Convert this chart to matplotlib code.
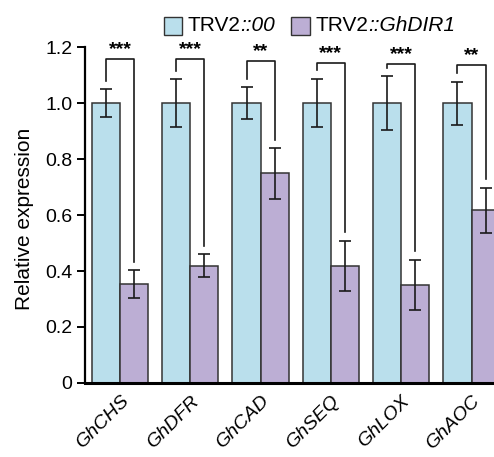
import numpy as np
import matplotlib.pyplot as plt
import matplotlib.transforms as mtransforms
from matplotlib.offsetbox import TextArea, DrawingArea, HPacker, AnchoredOffsetbox
from matplotlib.patches import Rectangle

plt.rcParams['font.family'] = ['Liberation Sans', 'DejaVu Sans']

# data
genes = ["GhCHS", "GhDFR", "GhCAD", "GhSEQ", "GhLOX", "GhAOC"]
ctrl = [1.0, 1.0, 1.0, 1.0, 1.0, 1.0]
ctrl_err = [0.05, 0.086, 0.056, 0.087, 0.097, 0.077]
vigs = [0.353, 0.419, 0.749, 0.419, 0.351, 0.617]
vigs_err = [0.05, 0.04, 0.09, 0.089, 0.09, 0.08]
stars = ["***", "***", "**", "***", "***", "**"]
bracket_y = [1.158, 1.156, 1.151, 1.144, 1.139, 1.135]

blue = "#badfec"
purple = "#bcaed4"
edge = "#333333"

fig = plt.figure(figsize=(4.94, 4.57), dpi=100)
ax = fig.add_axes([0.172, 0.162, 0.828, 0.735])

x = np.arange(len(genes))
w = 0.4
ekw = dict(elinewidth=1.2, capthick=1.2, ecolor="#1a1a1a")
ax.bar(x - w / 2, ctrl, w, yerr=ctrl_err, capsize=4, color=blue,
       edgecolor=edge, linewidth=1.1, error_kw=ekw)
ax.bar(x + w / 2, vigs, w, yerr=vigs_err, capsize=4, color=purple,
       edgecolor=edge, linewidth=1.1, error_kw=ekw)

# significance brackets
for i in range(len(genes)):
    x0, x1 = x[i] - w / 2, x[i] + w / 2
    top = bracket_y[i]
    y0 = ctrl[i] + ctrl_err[i] + 0.03
    y1 = vigs[i] + vigs_err[i] + 0.03
    ax.plot([x0, x0, x1, x1], [y0, top, top, y1], color="#1a1a1a", lw=1.2, clip_on=False)
    ax.text(x[i], top + 0.004, stars[i], ha="center", va="bottom",
            fontsize=14, fontweight="bold")

ax.set_xlim(-0.498, 5.32)
ax.set_ylim(0, 1.2)
ax.set_yticks([0, 0.2, 0.4, 0.6, 0.8, 1.0, 1.2])
ax.set_yticklabels(["0", "0.2", "0.4", "0.6", "0.8", "1.0", "1.2"])
ax.set_xticks(x)
ax.set_xticklabels(genes, rotation=45, ha="right", rotation_mode="anchor",
                   fontstyle="italic")
shift = mtransforms.ScaledTranslation(-9 / 100, -5 / 100, fig.dpi_scale_trans)
for lab in ax.get_xticklabels():
    lab.set_transform(lab.get_transform() + shift)
ax.tick_params(axis="y", direction="out", length=6, width=1.4, labelsize=14, pad=3)
ax.tick_params(axis="x", length=0, labelsize=14, pad=7)
ax.set_ylabel("Relative expression", fontsize=15)
ax.yaxis.set_label_coords(-0.125, 0.49)

ax.spines["top"].set_visible(False)
ax.spines["right"].set_visible(False)
ax.spines["left"].set_linewidth(1.6)
ax.spines["bottom"].set_linewidth(2.2)


# legend with partly italic labels
def legend_entry(color, italic_part):
    da = DrawingArea(14, 14, 0, 0)
    da.add_artist(Rectangle((0, 0), 13, 13, facecolor=color, edgecolor=edge, lw=1.0))
    t1 = TextArea("TRV2", textprops=dict(fontsize=15))
    t2 = TextArea(italic_part, textprops=dict(fontsize=15, fontstyle="italic"))
    txt = HPacker(children=[t1, t2], sep=0, pad=0, align="baseline")
    return HPacker(children=[da, txt], sep=3, pad=0, align="center")


leg = HPacker(children=[legend_entry(blue, "::00"), legend_entry(purple, "::GhDIR1")],
              sep=12, pad=0, align="center")
box = AnchoredOffsetbox(loc="center", child=leg, frameon=False, pad=0, borderpad=0,
                        bbox_to_anchor=(0.626, 0.945), bbox_transform=fig.transFigure)
fig.add_artist(box)

fig.savefig("out.png", dpi=100)
